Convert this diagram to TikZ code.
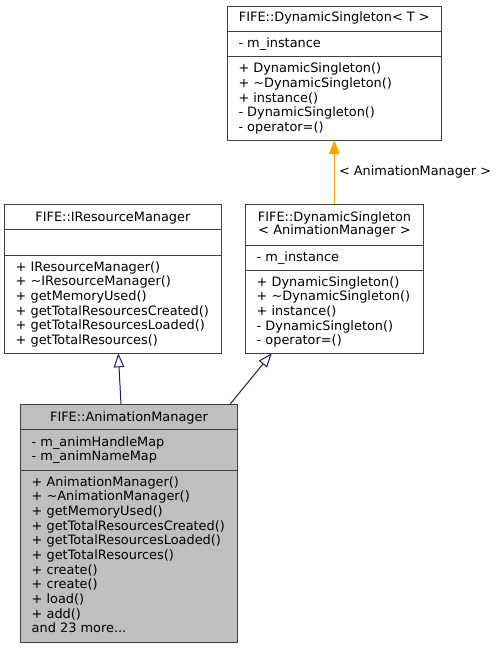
\documentclass[tikz,border=0pt]{standalone}
\usepackage{fontspec}
\setmainfont{DejaVu Sans}
\usetikzlibrary{arrows.meta}
\definecolor{boxline}{HTML}{404040}
\definecolor{inhcol}{HTML}{191970}
\definecolor{tplcol}{HTML}{FFA500}
\definecolor{curfill}{HTML}{BFBFBF}
\begin{document}
\begin{tikzpicture}[x=1pt,y=-1pt,
  umlbox/.style={draw=boxline, line width=1pt, fill=white, inner sep=0pt, outer sep=0pt, anchor=north west, rectangle},
  sepline/.style={draw=boxline, line width=1pt},
  txt/.style={inner sep=0pt, outer sep=0pt, font=\fontsize{12.9}{14.65}\selectfont, align=left, anchor=base west},
  ttl/.style={inner sep=0pt, outer sep=0pt, font=\fontsize{12.9}{13.3}\selectfont, align=center, anchor=base},
  inh/.style={draw=inhcol, line width=1pt, -{Triangle[open, length=14pt, width=10.5pt, fill=white]}},
  tpl/.style={draw=tplcol, line width=1pt, -{Triangle[length=14pt, width=10.5pt, fill=tplcol]}}
]
\useasboundingbox (0,0) rectangle (497,648);
% note: a multi-line node's base anchor is the baseline of its LAST line

% FIFE::DynamicSingleton< T >
\node[umlbox, minimum width=213.5pt, minimum height=134pt] (dst) at (227.5,6) {};
\draw[sepline] (dst.west |- 0,31.5) -- (dst.east |- 0,31.5);
\draw[sepline] (dst.west |- 0,56.5) -- (dst.east |- 0,56.5);
\node[ttl] (dstt) at (334.3,21.8) {FIFE::DynamicSingleton< T >};
\node[txt] (dsta) at (238.5,47.2) {- m\_instance};
\node[txt] (dstm) at (238.5,131.4) {+ DynamicSingleton()\\+ \textasciitilde DynamicSingleton()\\+ instance()\\- DynamicSingleton()\\- operator=()};

% FIFE::IResourceManager
\node[umlbox, minimum width=216.3pt, minimum height=149pt] (irm) at (4.7,204.3) {};
\draw[sepline] (irm.west |- 0,229.3) -- (irm.east |- 0,229.3);
\draw[sepline] (irm.west |- 0,255) -- (irm.east |- 0,255);
\node[ttl] (irmt) at (112.9,221.2) {FIFE::IResourceManager};
\node[txt] (irmm) at (15.7,344.4) {+ IResourceManager()\\+ \textasciitilde IResourceManager()\\+ getMemoryUsed()\\+ getTotalResourcesCreated()\\+ getTotalResourcesLoaded()\\+ getTotalResources()};

% FIFE::DynamicSingleton< AnimationManager >
\node[umlbox, minimum width=177.6pt, minimum height=149pt] (dsam) at (245.7,204.3) {};
\draw[sepline] (dsam.west |- 0,245) -- (dsam.east |- 0,245);
\draw[sepline] (dsam.west |- 0,270) -- (dsam.east |- 0,270);
\node[ttl] (dsamt) at (334.5,234.5) {FIFE::DynamicSingleton\\< AnimationManager >};
\node[txt] (dsama) at (256.7,261.2) {- m\_instance};
\node[txt] (dsamm) at (256.7,344.8) {+ DynamicSingleton()\\+ \textasciitilde DynamicSingleton()\\+ instance()\\- DynamicSingleton()\\- operator=()};

% FIFE::AnimationManager
\node[umlbox, fill=curfill, minimum width=216.6pt, minimum height=238pt] (am) at (20.7,404.3) {};
\draw[sepline] (am.west |- 0,429.3) -- (am.east |- 0,429.3);
\draw[sepline] (am.west |- 0,470) -- (am.east |- 0,470);
\node[ttl] (amt) at (129,421.2) {FIFE::AnimationManager};
\node[txt] (ama) at (31.7,460.9) {- m\_animHandleMap\\- m\_animNameMap};
\node[txt] (amm) at (31.7,632.7) {+ AnimationManager()\\+ \textasciitilde AnimationManager()\\+ getMemoryUsed()\\+ getTotalResourcesCreated()\\+ getTotalResourcesLoaded()\\+ getTotalResources()\\+ create()\\+ create()\\+ load()\\+ add()\\and 23 more...};

% connectors
\coordinate (a1s) at (121,404.3);
\coordinate (a1e) at (118.3,353.3);
\coordinate (a2s) at (230,404.3);
\coordinate (a2e) at (271.7,353.3);
\coordinate (a3s) at (334.3,204.3);
\coordinate (a3e) at (334.3,140);
\draw[inh] (a1s) -- (a1e);
\draw[inh] (a2s) -- (a2e);
\draw[tpl] (a3s) -- (a3e);
\node[txt] (lbl) at (339,175.5) {< AnimationManager >};
\end{tikzpicture}
\end{document}
